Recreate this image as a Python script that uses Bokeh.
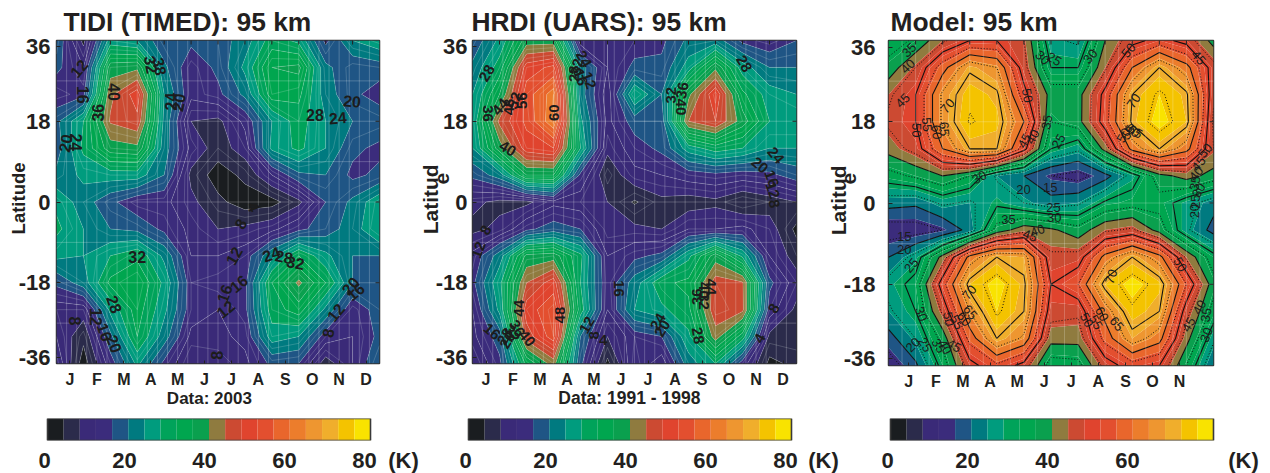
from bokeh.plotting import figure
from bokeh.layouts import column, row
from bokeh.embed import file_html
from bokeh.resources import INLINE
from bokeh.models import Range1d, FixedTicker, LinearAxis
from bokeh.core.properties import value
import numpy as np

FONT = "Liberation Sans"
INK = "#231f20"

months = ["J", "F", "M", "A", "M", "J", "J", "A", "S", "O", "N", "D"]
lat_labels = ["36", "18", "0", "-18", "-36"]
month_axis = list(range(13))
lat_axis = [36, 30, 24, 18, 12, 6, 0, -6, -12, -18, -24, -30, -36]
palette = ["#1a1d20", "#2b2b4b", "#3a2a78", "#3b2c7c", "#1f5585", "#007a80", "#009c7e", "#00a35a",
           "#00a64f", "#0aa04e", "#8f7b3f", "#cc4a32", "#e0442e", "#e34f2f", "#e9662c", "#ec7d2c",
           "#ee9630", "#f0ae2c", "#f4c300", "#f9e300"]
levels = list(range(0, 84, 4))

tidi = [
    [19, 7, 26, 24, 17, 17, 18, 22, 30, 27, 15, 24, 27],
    [17, 12, 38, 39, 21, 13, 17, 25, 36, 37, 21, 17, 18],
    [13, 15, 43, 50, 24, 13, 15, 21, 34, 33, 22, 17, 14],
    [19, 28, 44.5, 47, 23, 8, 7, 13, 24, 30, 24, 20, 19],
    [18, 29, 38, 39, 22, 11, 6, 10, 25, 29, 24, 17, 15],
    [21, 25, 26, 26, 20, 7, 2, 5, 12, 19, 20, 15, 17],
    [27, 22, 17, 13, 13, 9, 5, 2, 2.5, 7, 16, 21, 27],
    [29, 24, 20, 19, 15, 11, 8, 9, 11, 15, 18, 22, 28],
    [25, 24, 28, 31, 23, 12, 12, 14, 23, 32, 25, 20, 20],
    [17, 22, 33, 36, 27, 14, 15, 15, 32, 41, 32, 20, 19],
    [10, 10, 25, 34, 25, 14, 12, 15, 30, 34, 23, 13, 18],
    [12, 5, 19, 32, 22, 11, 11, 13, 26, 24, 14, 12, 17],
    [15, 2, 14, 25, 15, 8, 9, 11, 17, 16, 6, 12, 20],
]
hrdi = [
    [17, 25, 38, 38, 10, 12, 14, 15, 21, 22, 15, 13, 16],
    [21, 30, 50, 53, 22, 12, 17, 17, 26, 39, 26, 20, 20],
    [24, 36, 54, 62, 22, 10, 28, 20, 39, 51, 33, 26, 24],
    [25, 45, 53, 63, 25, 11, 18, 18, 44, 48, 38, 28, 28],
    [24, 38, 50, 52, 28, 9, 14, 17, 26, 30, 28, 24, 24],
    [17, 22, 36, 36, 15, 5, 11, 12, 14, 15, 14, 15, 18],
    [9, 7, 7, 11, 10, 8, 3.5, 7, 6, 7, 4, 6, 8],
    [7, 9, 15, 18, 16, 9, 9, 8, 12, 12, 13, 10, 3],
    [13, 22, 37, 38, 29, 12, 15, 17, 27, 38, 27, 12, 6],
    [15, 27, 44, 50, 28, 13, 22, 31, 33, 46, 44.5, 17, 10],
    [12, 25, 50, 55, 30, 12, 24, 27, 31, 47, 45, 14, 7],
    [11, 18, 46, 54, 20, 8, 14, 16, 27, 42, 30, 7, 7],
    [8, 15, 33, 42, 17, 3, 15, 10, 22, 28, 14, 3, 5],
]
model = [
    [32, 36, 44, 50, 50, 45, 26, 24, 40, 48, 52, 48, 38],
    [37, 45, 58, 69, 65, 47, 30, 30, 44, 60, 70, 62, 47],
    [44, 50, 66, 74, 71, 52, 38, 38, 52, 70, 76, 71, 46],
    [46, 50, 66, 75.5, 73, 60, 35, 38, 53, 71, 78, 72, 44],
    [42, 47, 60, 70, 70, 52, 30, 26, 42, 62, 70, 62, 45],
    [33, 36, 40, 35, 24, 20, 15, 13, 18, 27, 38, 42, 38],
    [22, 21, 26, 24, 29, 25, 22, 24, 31, 33, 33, 27, 22],
    [12, 12.5, 15, 22, 37, 43, 41, 37, 44, 46, 38, 26, 18],
    [20, 27, 42, 62, 70, 68, 46, 47, 62, 70, 62, 44, 32],
    [27, 32, 53, 72, 78, 71, 50, 55, 72, 78, 73, 55, 37],
    [24, 30, 46, 65, 76, 70, 47, 46, 62, 74, 70, 47, 33],
    [18, 25, 37, 57, 70, 64, 42, 42, 57, 68, 62, 42, 26],
    [12, 19, 32, 48, 54, 48, 32, 33, 47, 53, 50, 35, 20],
]

tidi_label_text = ["12","16","40","36","32","38","24","20","20","24","28","24","20","32","28","24","28","32","12","8","4","16","16","12","8","12","16","20","8","20","16","12","8"]
tidi_label_month = [.83,.99,2.13,1.54,3.52,3.84,4.24,4.54,.33,.71,9.6,10.45,10.98,3.0,2.15,7.98,8.45,8.88,6.59,6.84,7.33,6.77,6.24,6.28,.67,1.45,1.8,2.15,5.97,10.92,11.1,10.37,10.08]
tidi_label_lat = [29.8,23.9,24.5,19.9,30.6,30.2,22.4,22.2,13.1,13.3,19.4,18.8,22.5,-12.2,-22.8,-11.6,-12.2,-13.5,-12.0,-4.9,-1.1,-18.2,-20.4,-23.9,-26.5,-25.6,-29,-31.6,-34.2,-18.7,-20,-24.6,-29.2]
tidi_label_angle = [50,-90,-90,90,-80,-80,90,80,80,-90,0,5,-5,0,-70,20,-10,-10,60,60,-70,40,70,40,-90,-90,-70,-70,90,50,40,50,80]

hrdi_label_text = ["28","36","44","48","52","56","60","40","28","32","24","16","12","32","36","40","28","24","20","16","12","8","8","12","16","24","20","12","8","4","44","40","36","32","28","20","16","48","28","8","4","40","36","32","44"]
hrdi_label_month = [.53,.59,1.03,1.37,1.56,1.83,3.01,1.3,3.75,3.87,4.12,4.0,4.31,7.34,7.77,7.71,10.06,11.23,10.64,11.08,11.11,11.17,.49,.22,5.44,6.87,7.03,4.24,4.49,4.84,1.73,2.02,1.65,1.46,1.21,1.3,.72,3.25,8.35,11.17,10.64,8.57,8.33,8.57,8.82]
hrdi_label_lat = [28.7,19.7,21.2,21.2,22.6,22.6,19.9,11.9,28.6,30.1,31.9,27.8,27.1,23.8,24.9,21.2,30.8,10.4,8.2,5.2,2.6,-.4,-6.3,-10.7,-19.3,-26.7,-28.2,-27.4,-29.7,-30.8,-23.7,-30.4,-28.2,-29.3,-30,-30.8,-28.9,-25.2,-29.8,-23.7,-30.4,-19.7,-21.1,-22.2,-18.9]
hrdi_label_angle = [60,-90,50,90,70,90,90,-30,90,80,-60,-70,-70,90,80,-90,-60,-50,-40,-70,-70,-80,60,70,-90,60,60,60,90,0,90,-50,-60,-60,60,60,-40,90,-80,60,60,-90,90,-90,-90]

model_label_text = ["35","40","45","50","55","60","65","70","50","35","25","45","40","30","25","30","50","45","70","50","55","60","65","50","45","40","35","30","25","20","30","20","15","25","30","35","40","45","15","20","25","70","70","30","50","55","60","65","50","55","60","65","50","40","35","45","30","20","25","35","40","45"]
model_label_month = [.76,.71,.52,1.05,1.42,1.78,2.06,2.18,5.13,5.85,6.28,5.02,5.32,5.69,6.12,7.45,8.86,11.45,9.05,8.68,8.84,9.02,9.11,11.69,11.45,11.36,11.32,11.45,11.32,11.29,3.35,4.98,5.97,6.09,6.12,4.43,5.5,5.23,.58,.58,.84,2.98,8.22,1.21,2.22,2.52,2.79,3.02,7.32,7.66,7.88,8.43,10.77,11.48,11.73,11.08,11.73,.9,1.35,1.85,2.09,2.42]
model_label_lat = [33.9,30.3,22.7,16.1,17.4,15.7,16.4,21.5,23.8,17.9,13.7,13.8,14.7,32.2,31.9,32.5,33.8,32.2,22.6,15,15.7,16.1,15.8,11.6,8.7,6.5,4.4,2.8,.3,-1.8,5.7,3.1,3.5,-1.1,-3.3,-3.7,-6.1,-7.2,-7.4,-10.3,-13.8,-19.8,-16.3,-24.6,-25.7,-26.4,-25.7,-24.2,-25.9,-26.4,-24.6,-26.8,-13.6,-23.1,-24.8,-26.9,-29.2,-31.4,-31.4,-31.6,-31.9,-31.6]
model_label_angle = [45,45,45,-90,-85,-85,-85,50,-80,80,60,60,60,-45,-30,50,50,-50,55,60,60,-40,-30,50,50,50,80,60,90,90,30,0,0,0,0,0,20,-20,0,0,50,50,70,-70,-80,-60,-50,-50,-60,-60,-60,-50,-60,60,80,60,70,45,-60,-60,-60,-30]


def panel(title, grid, lab_t, lab_m, lab_l, lab_a, lab_size, lab_style, left, right, top, bottom, fw, fh,
          title_offset, month_start, n_months, lat_shift, standoff, grid_step, lines):
    p = figure(width=left + fw + right, height=top + fh + bottom, frame_width=fw, frame_height=fh,
               min_border_left=left, min_border_right=right, min_border_top=top, min_border_bottom=bottom,
               x_range=Range1d(0, 12), y_range=Range1d(-36, 36), toolbar_location=None,
               output_backend="svg", background_fill_color=None, border_fill_color=None,
               x_axis_type=None, y_axis_type=None)
    z = np.array(grid, dtype=float)[::-1]
    ys = lat_axis[::-1]
    p.contour(month_axis, ys, z, levels, fill_color=palette, line_color=None)
    if lines == "light":
        p.contour(month_axis, ys, z, list(range(2, 80, 2)), line_color="#e8f5ee", line_alpha=0.28, line_width=0.7)
    else:
        p.contour(month_axis, ys, z, list(range(15, 80, 10)), line_color="#111111", line_dash="1 2", line_width=1)
        p.contour(month_axis, ys, z, list(range(20, 80, 10)), line_color="#111111", line_width=1.1)

    ticks_x = [month_start + i for i in range(n_months)]
    xax = LinearAxis(ticker=FixedTicker(ticks=ticks_x),
                     major_label_overrides={t: months[i] for i, t in enumerate(ticks_x)},
                     major_label_text_font=FONT, major_label_text_font_style="bold",
                     major_label_text_font_size="16px", major_label_text_color=INK,
                     major_label_standoff=7, axis_line_color=None, major_tick_in=3, major_tick_out=0,
                     major_tick_line_color="#222222", minor_tick_line_color=None)
    p.add_layout(xax, "below")
    ticks_y = [36 - lat_shift, 18, 0, -18, -36 + lat_shift]
    yax = LinearAxis(ticker=FixedTicker(ticks=ticks_y),
                     major_label_overrides={t: lat_labels[i] for i, t in enumerate(ticks_y)},
                     major_label_text_font=FONT, major_label_text_font_style="bold",
                     major_label_text_font_size="22px", major_label_text_color=INK,
                     major_label_standoff=standoff, axis_line_color=None, major_tick_in=4, major_tick_out=0,
                     major_tick_line_color="#222222", minor_tick_line_color=None)
    p.add_layout(yax, "left")

    xg = np.arange(grid_step, 12, grid_step).tolist()
    p.segment(xg, [-36] * len(xg), xg, [36] * len(xg), line_color="white", line_alpha=0.22, line_width=1)
    yg = [27, 18, 9, 0, -9, -18, -27]
    p.segment([0] * len(yg), yg, [12] * len(yg), yg, line_color="white", line_alpha=0.22, line_width=1)
    p.scatter([12, 12, 12], [18, 0, -18], marker="dash", size=8, line_color="#222222")
    top_ticks = list(range(1, 12))
    p.scatter(top_ticks, [36] * 11, marker="dash", angle=90, angle_units="deg", size=8, line_color="#222222")

    p.text(lab_m, lab_l, text=lab_t, angle=lab_a, angle_units="deg", text_align="center", text_baseline="middle",
           text_font=value(FONT), text_font_size=value(lab_size), text_color="#1c1c1c", text_font_style=lab_style)

    p.outline_line_color = "#333333"
    p.outline_line_width = 1.5
    p.title.text = title
    p.title.text_font = FONT
    p.title.text_font_size = "26.4px"
    p.title.text_font_style = "bold"
    p.title.text_color = INK
    p.title.offset = title_offset
    p.title.standoff = 8
    return p


def cbar(left, fw, right, ticks, names):
    ppu = 323.0 / 80.0
    start = -7.0 / ppu
    p = figure(width=left + fw + right, height=59, frame_width=fw, frame_height=22,
               min_border_left=left, min_border_right=right, min_border_top=6, min_border_bottom=31,
               x_range=Range1d(start, start + fw / ppu), y_range=Range1d(0, 1), toolbar_location=None,
               output_backend="svg", background_fill_color=None, border_fill_color=None,
               x_axis_type=None, y_axis_type=None)
    p.extra_x_ranges = {"lab": Range1d(-1, -1 + fw / 4.0)}
    p.quad(left=levels[:-1], right=levels[1:], bottom=0, top=1, fill_color=palette, line_color=None)
    p.quad(left=[0], right=[80], bottom=[0], top=[1], fill_color=None, line_color="#3a3a3a", line_width=1.6)
    ax = LinearAxis(x_range_name="lab", ticker=FixedTicker(ticks=ticks),
                    major_label_overrides={t: n for t, n in zip(ticks, names)},
                    major_label_text_font=FONT,
                    major_label_text_font_style="bold", major_label_text_font_size="22px",
                    major_label_text_color=INK, major_label_standoff=1, axis_line_color=None,
                    major_tick_line_color=None, minor_tick_line_color=None)
    p.add_layout(ax, "below")
    p.outline_line_color = None
    return p


def txt(p, x, y, text, size, angle=0.0):
    p.text([x], [y], text=[text], angle=angle, angle_units="deg", text_align="center", text_baseline="middle",
           text_font=value(FONT), text_font_size=value(size), text_font_style="bold", text_color=INK, level="overlay")


p1 = panel("TIDI (TIMED): 95 km", tidi, tidi_label_text, tidi_label_month, tidi_label_lat, tidi_label_angle, "16px", "bold",
           56, 31, 39, 49, 323, 323, 7, 0.5, 12, 1.34, 6, 0.375, "light")
p2 = panel("HRDI (UARS): 95 km", hrdi, hrdi_label_text, hrdi_label_month, hrdi_label_lat, hrdi_label_angle, "15px", "bold",
           62, 22, 40, 48, 324, 323, -1, 0.5, 12, 1.34, 5, 0.375, "light")
p3 = panel("Model: 95 km", model, model_label_text, model_label_month, model_label_lat, model_label_angle, "13px", "normal",
           70, 49, 40, 46, 325, 325, 2, 0.75, 11, 1.6, 13, 0.5, "black")

txt(p1, 5.68, -43.8, "Data: 2003", "17px")
txt(p1, -1.41, 0.8, "Latitude", "18.5px", 90)
txt(p2, 5.9, -43.6, "Data: 1991 -  1998", "17.5px")
txt(p2, -1.55, 0.6, "Latitud", "21px", 90)
txt(p2, -1.13, 5.2, "e", "21px", 90)
txt(p3, -1.86, 0.6, "Latitud", "21px", 90)
txt(p3, -1.45, 5.4, "e", "21px", 90)

c1 = cbar(40, 388, 2, [0, 20, 40, 60, 80, 89.75], ["0", "20", "40", "60", "80", "(K)"])
c2 = cbar(31, 388, 1, [0, 20, 40, 60, 80, 89.5], ["0", "20", "40", "60", "80", "(K)"])
c3 = cbar(33, 379, 0, [0, 20, 40, 60, 89], ["0", "20", "40", "60", "(K)"])

page = column(row(p1, p2, p3, spacing=0), row(c1, c2, c3, spacing=0), spacing=0)
open("out.html", "w").write(file_html(page, INLINE))
